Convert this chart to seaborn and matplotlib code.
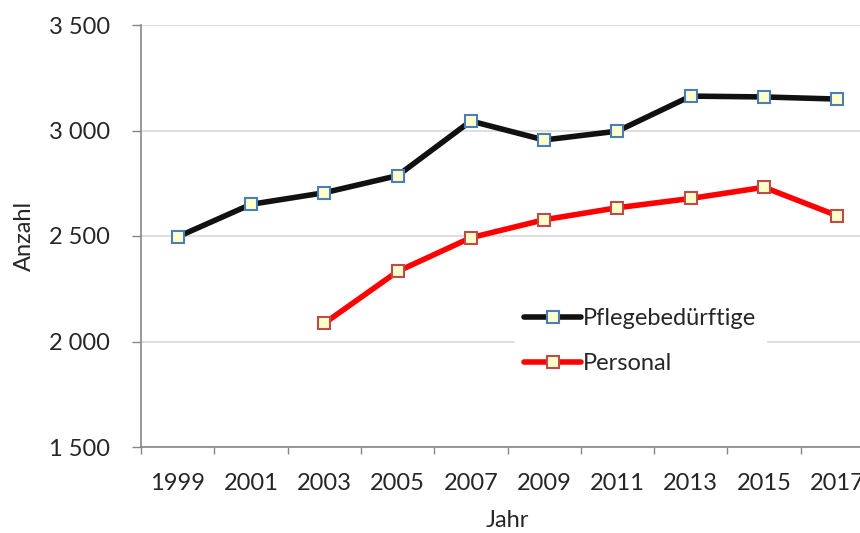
#!/usr/bin/env python3
"""Pflegebedürftige und Personal, 1999-2017."""

import pandas as pd
import matplotlib
matplotlib.use("Agg")
import matplotlib.pyplot as plt
from matplotlib.ticker import FuncFormatter, MultipleLocator
import seaborn as sns

# data
jahre = [1999, 2001, 2003, 2005, 2007, 2009, 2011, 2013, 2015, 2017]
pflegebeduerftige = [2496, 2650, 2705, 2786, 3045, 2955, 2997, 3163, 3159, 3149]
personal_jahre = [2003, 2005, 2007, 2009, 2011, 2013, 2015, 2017]
personal = [2086, 2332, 2492, 2577, 2634, 2678, 2731, 2596]

sns.set_style("white")
plt.rcParams['font.family'] = ['Lato', 'DejaVu Sans']

df_pb = pd.DataFrame({'Jahr': jahre, 'Anzahl': pflegebeduerftige})
df_pe = pd.DataFrame({'Jahr': personal_jahre, 'Anzahl': personal})

fig = plt.figure(figsize=(8.6, 5.33), dpi=100)
ax = fig.add_axes([141 / 860, 86 / 533, 733 / 860, 422 / 533])

sns.lineplot(data=df_pb, x='Jahr', y='Anzahl', ax=ax, color='#111111',
             linewidth=4, marker='s', markersize=9,
             markerfacecolor='#ffffcc', markeredgecolor='#4a7ebb',
             markeredgewidth=1.5, label='Pflegebedürftige', zorder=3)
sns.lineplot(data=df_pe, x='Jahr', y='Anzahl', ax=ax, color='#ff0000',
             linewidth=4, marker='s', markersize=9,
             markerfacecolor='#ffffcc', markeredgecolor='#be4b48',
             markeredgewidth=1.5, label='Personal', zorder=3)

ax.set_xlim(1998, 2018)
ax.set_ylim(1500, 3500)
ax.set_xticks(jahre)
ax.set_xticks(list(range(1998, 2019, 2)), minor=True)
ax.tick_params(axis='x', which='major', length=0, pad=19, labelsize=17)
ax.tick_params(axis='x', which='minor', length=5, width=1, color='#868686',
               direction='out', bottom=True)
ax.yaxis.set_major_locator(MultipleLocator(500))
ax.yaxis.set_major_formatter(FuncFormatter(lambda v, p: f"{int(v):,}".replace(',', ' ')))
ax.tick_params(axis='y', length=6.5, width=1, color='#868686', direction='out',
               left=True, pad=16, labelsize=17)

ax.grid(axis='y', color='#d9d9d9', linewidth=1.2)
ax.set_axisbelow(True)
for side in ['top', 'right']:
    ax.spines[side].set_visible(False)
for side in ['left', 'bottom']:
    ax.spines[side].set_color('#868686')
    ax.spines[side].set_linewidth(1.2)

ax.set_xlabel('Jahr', fontsize=17, labelpad=11)
ax.set_ylabel('Anzahl', fontsize=17, labelpad=10)

leg = ax.legend(loc='upper left', bbox_to_anchor=(503 / 860, 1 - 287 / 533),
                bbox_transform=fig.transFigure, frameon=True, fancybox=False,
                fontsize=17, handlelength=2.4, handletextpad=0.1,
                labelspacing=1.0, borderpad=0.4)
leg.get_frame().set_facecolor('white')
leg.get_frame().set_edgecolor('white')
leg.get_frame().set_alpha(1)

fig.savefig('out.png', dpi=100)
